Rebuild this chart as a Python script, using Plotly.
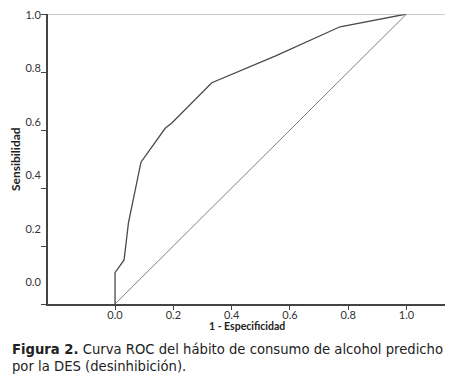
import plotly.graph_objects as go

# ROC curve data
fpr = [0.0, 0.0, 0.031, 0.046, 0.089, 0.172, 0.194, 0.332, 0.549, 0.772, 1.0]
tpr = [0.0, 0.108, 0.152, 0.28, 0.489, 0.606, 0.623, 0.763, 0.855, 0.956, 1.0]
ref_x = [0.0, 1.0]
ref_y = [0.0, 1.0]
tick_vals = [0.0, 0.2, 0.4, 0.6, 0.8, 1.0]
tick_text = ["0.0", "0.2", "0.4", "0.6", "0.8", "1.0"]

FONT = "Lato"
CAP_FONT = "DejaVu Sans"

fig = go.Figure()
fig.add_trace(go.Scatter(x=ref_x, y=ref_y, mode="lines",
                         line=dict(color="#808080", width=1), hoverinfo="skip"))
fig.add_trace(go.Scatter(x=fpr, y=tpr, mode="lines",
                         line=dict(color="#4a4a4a", width=1.3), hoverinfo="skip"))
# invisible trace on the label axis
fig.add_trace(go.Scatter(x=[None], y=[None], yaxis="y2", showlegend=False))

fig.update_layout(
    width=457, height=385,
    margin=dict(l=48, r=12, t=14, b=81, autoexpand=False),
    plot_bgcolor="white", paper_bgcolor="white",
    showlegend=False,
    font=dict(family=FONT, color="#333333"),
    xaxis=dict(range=[-0.23, 1.132], tickvals=tick_vals, ticktext=tick_text,
               automargin=False, ticklabelstandoff=-4,
               showgrid=False, zeroline=False, showline=True, linecolor="#444444",
               linewidth=1.5, ticks="outside", ticklen=4, tickcolor="#444444",
               tickfont=dict(size=11, color="#333333", family=FONT)),
    yaxis=dict(range=[0, 1.0], tickvals=tick_vals, showticklabels=False,
               automargin=False,
               showgrid=False, zeroline=False, showline=True, linecolor="#444444",
               linewidth=1.5, ticks="outside", ticklen=5, tickcolor="#444444"),
    yaxis2=dict(range=[-0.082, 1.004], overlaying="y", side="left",
                automargin=False,
                tickvals=tick_vals, ticktext=tick_text, showgrid=False,
                zeroline=False, showline=False, ticks="outside", ticklen=4,
                tickcolor="rgba(0,0,0,0)",
                tickfont=dict(size=11, color="#333333", family=FONT)),
    shapes=[dict(type="line", xref="paper", yref="y", x0=0, x1=1, y0=1, y1=1,
                 line=dict(color="#999999", width=1))],
    annotations=[
        dict(text="<b>Sensibilidad</b>", xref="paper", yref="paper", x=-0.083, y=0.5,
             textangle=-90, showarrow=False, font=dict(size=12, color="#222222", family=FONT),
             xanchor="center", yanchor="middle"),
        dict(text="<b>1 - Especificidad</b>", xref="paper", yref="paper", x=0.5, y=-0.047,
             showarrow=False, font=dict(size=10.5, color="#222222", family=FONT),
             xanchor="center", yanchor="top"),
        dict(text="<b>Figura 2.</b> Curva ROC del hábito de consumo de alcohol predicho<br>por la DES (desinhibición).",
             xref="paper", yref="paper", x=-0.096, y=-0.125, align="left",
             showarrow=False, font=dict(size=13.2, color="#222222", family=CAP_FONT),
             xanchor="left", yanchor="top"),
    ],
)

fig.write_html("out.html", config={"displayModeBar": False},
               post_script="document.body.style.margin='0';document.body.style.padding='0';")
